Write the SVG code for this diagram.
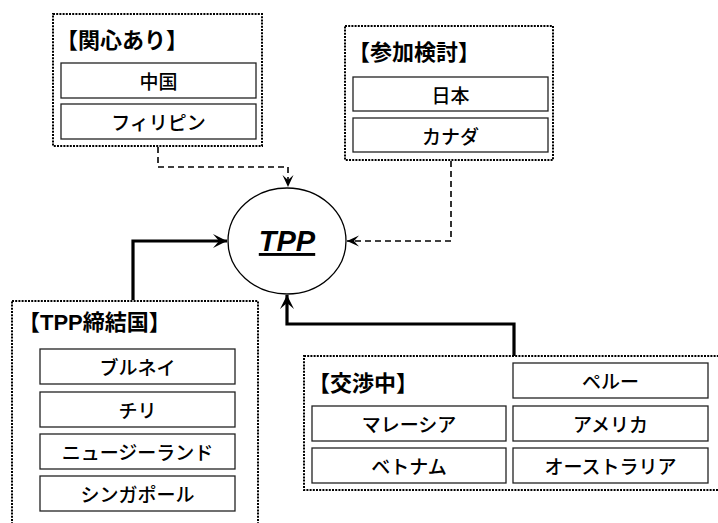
<svg xmlns="http://www.w3.org/2000/svg" width="718" height="523" viewBox="0 0 718 523">
<style>
.grp{fill:#fff;stroke:#000;stroke-width:2;stroke-dasharray:2 1.2}
.box{fill:#fff;stroke:#222;stroke-width:1.3}
.t{font-family:"Noto Sans CJK JP","Liberation Sans",sans-serif;font-size:19px;font-weight:500;fill:#000;text-anchor:middle;dominant-baseline:central}
.title{font-family:"Liberation Sans","Noto Sans CJK JP",sans-serif;font-size:22px;font-weight:bold;fill:#000}
.dash{fill:none;stroke:#000;stroke-width:1.6;stroke-dasharray:6 4}
.thick{fill:none;stroke:#000;stroke-width:3.2}
</style>
<defs>
<marker id="ah" markerUnits="userSpaceOnUse" viewBox="-14 -7 15 14" refX="0" refY="0" markerWidth="15" markerHeight="14" orient="auto">
<path d="M0,0 L-12,-5.5 L-7,0 L-12,5.5 Z" fill="#000"/>
</marker>
<marker id="ahb" markerUnits="userSpaceOnUse" viewBox="-16 -8 17 16" refX="0" refY="0" markerWidth="17" markerHeight="16" orient="auto">
<path d="M0,0 L-14,-7 L-8,0 L-14,7 Z" fill="#000"/>
</marker>
</defs>
<g id="connectors">
<path class="dash" d="M158,147 V167 H288 V187" marker-end="url(#ah)"/>
<path class="dash" d="M451,161 V241 H347" marker-end="url(#ah)"/>
<path class="thick" d="M133,300 V241 H227" marker-end="url(#ahb)"/>
<path class="thick" d="M514,356 V324 H287 V295" marker-end="url(#ahb)"/>
</g>
<g id="kanshin">
<rect class="grp" x="53" y="14" width="209" height="132"/>
<text class="title" x="56" y="48">【関心あり】</text>
<rect class="box" x="61" y="63" width="195" height="35"/>
<text class="t" x="158.5" y="80.5">中国</text>
<rect class="box" x="61" y="104" width="195" height="35"/>
<text class="t" x="158.5" y="121.5">フィリピン</text>
</g>
<g id="sanka">
<rect class="grp" x="345" y="26" width="208" height="134"/>
<text class="title" x="348" y="60">【参加検討】</text>
<rect class="box" x="353" y="77" width="195" height="34"/>
<text class="t" x="450.5" y="94">日本</text>
<rect class="box" x="353" y="118" width="195" height="34"/>
<text class="t" x="450.5" y="135">カナダ</text>
</g>
<g id="tpp">
<ellipse cx="287" cy="241" rx="59" ry="53" fill="#fff" stroke="#000" stroke-width="1.3"/>
<text x="287" y="251" font-family="Liberation Sans, sans-serif" font-size="29" font-weight="bold" font-style="italic" text-anchor="middle" text-decoration="underline">TPP</text>
</g>
<g id="teiketsu">
<rect class="grp" x="12" y="301" width="246" height="240"/>
<text class="title" x="18" y="330">【TPP締結国】</text>
<rect class="box" x="40" y="349" width="195" height="35"/>
<text class="t" x="137.5" y="366.5">ブルネイ</text>
<rect class="box" x="40" y="392" width="195" height="35"/>
<text class="t" x="137.5" y="409.5">チリ</text>
<rect class="box" x="40" y="434" width="195" height="35"/>
<text class="t" x="137.5" y="451.5">ニュージーランド</text>
<rect class="box" x="40" y="476" width="195" height="35"/>
<text class="t" x="137.5" y="493.5">シンガポール</text>
</g>
<g id="koushou">
<rect class="grp" x="304" y="356" width="420" height="134"/>
<text class="title" x="308" y="391">【交渉中】</text>
<rect class="box" x="513" y="363" width="195" height="35"/>
<text class="t" x="610.5" y="380.5">ペルー</text>
<rect class="box" x="312" y="406" width="194" height="35"/>
<text class="t" x="409" y="423.5">マレーシア</text>
<rect class="box" x="513" y="406" width="195" height="35"/>
<text class="t" x="610.5" y="423.5">アメリカ</text>
<rect class="box" x="312" y="448" width="194" height="35"/>
<text class="t" x="409" y="465.5">ベトナム</text>
<rect class="box" x="513" y="448" width="195" height="35"/>
<text class="t" x="610.5" y="465.5">オーストラリア</text>
</g>
</svg>
